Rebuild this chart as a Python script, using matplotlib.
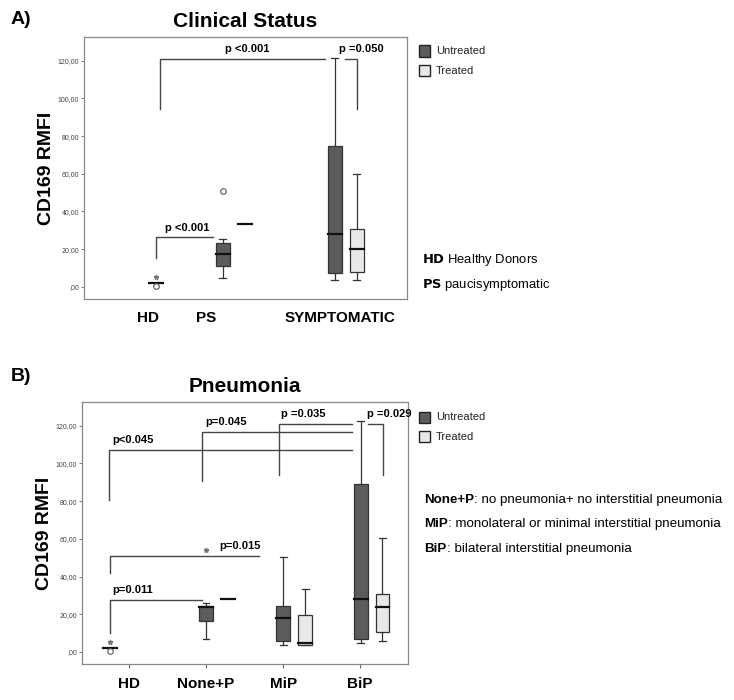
import matplotlib
matplotlib.use("Agg")
import matplotlib.pyplot as plt
from matplotlib.patches import Rectangle

plt.rcParams['font.family'] = ['Liberation Sans', 'DejaVu Sans']

# DADOS - painel A (Clinical Status)
a_categorias = ["HD", "PS", "SYMPTOMATIC"]
a_pos_rotulo = [0.83, 1.585, 3.325]
# caixas: posicao, whisker baixo, q1, mediana, q3, whisker alto
a_tratamento = ["Untreated", "Untreated", "Treated", "Untreated", "Treated"]
a_pos = [0.935, 1.805, 2.09, 3.26, 3.545]
a_wlo = [1.8, 4.6, 33.3, 3.7, 3.7]
a_q1 = [1.8, 11.3, 33.3, 7.2, 7.8]
a_med = [2.3, 17.4, 33.3, 27.8, 20.3]
a_q3 = [2.6, 23.1, 33.3, 74.9, 30.5]
a_whi = [2.6, 25.5, 33.3, 121.2, 60.1]
a_outliers = [(0.935, 0.6, "o"), (0.935, 5.0, "*"), (1.805, 50.6, "o")]
# colchetes: x1, x2, y esquerda, y direita, topo, texto, x texto
a_colchetes = [
    (0.987, 3.13, 94.4, None, 120.9, "p <0.001", 2.117),
    (3.39, 3.545, None, 94.4, 120.9, "p =0.050", 3.60),
    (0.935, 1.675, 15.2, None, 26.3, "p <0.001", 1.34),
]

# DADOS - painel B (Pneumonia)
b_categorias = ["HD", "None+P", "MiP", "BiP"]
b_tratamento = ["Untreated", "Untreated", "Treated", "Untreated", "Treated", "Untreated", "Treated"]
b_pos = [-0.25, 1.0, 1.29, 2.0, 2.29, 3.01, 3.29]
b_wlo = [1.8, 6.7, 28.3, 3.7, 3.5, 4.9, 6.0]
b_q1 = [1.8, 16.6, 28.3, 6.0, 3.7, 6.7, 10.4]
b_med = [2.3, 23.7, 28.3, 18.2, 4.9, 28.3, 23.7]
b_q3 = [2.6, 24.6, 28.3, 24.6, 19.6, 89.2, 30.6]
b_whi = [2.6, 25.8, 28.3, 50.6, 33.5, 122.3, 60.4]
b_outliers = [(-0.25, 0.6, "o"), (-0.25, 5.5, "*"), (1.0, 54.0, "*")]
b_colchetes = [
    (-0.26, 2.9, 80.7, None, 107.3, "p<0.045", 0.05),
    (0.95, 2.9, 90.5, None, 116.7, "p=0.045", 1.26),
    (1.95, 2.9, 94.0, None, 120.9, "p =0.035", 2.26),
    (3.1, 3.3, None, 94.0, 120.9, "p =0.029", 3.38),
    (-0.25, 1.69, 41.8, None, 51.0, "p=0.015", 1.44),
    (-0.25, 0.95, 10.3, None, 27.6, "p=0.011", 0.05),
]

ytick_vals = [0, 20, 40, 60, 80, 100, 120]
ytick_labels = [",00", "20,00", "40,00", "60,00", "80,00", "100,00", "120,00"]

cores = {"Untreated": "#5c5c5c", "Treated": "#e8e8e8"}
LARG = 0.18


def desenhar_caixas(ax, pos, wlo, q1, med, q3, whi, trat):
    for x, lo, a, m, b, hi, t in zip(pos, wlo, q1, med, q3, whi, trat):
        if b - a > 1:
            ax.add_patch(Rectangle((x - LARG / 2, a), LARG, b - a,
                                   facecolor=cores[t], edgecolor="#333333", lw=0.9, zorder=2))
            ax.plot([x, x], [b, hi], color="#333333", lw=0.9, zorder=1)
            ax.plot([x, x], [lo, a], color="#333333", lw=0.9, zorder=1)
            ax.plot([x - LARG / 4, x + LARG / 4], [hi, hi], color="#333333", lw=0.9)
            ax.plot([x - LARG / 4, x + LARG / 4], [lo, lo], color="#333333", lw=0.9)
        ax.plot([x - LARG / 2, x + LARG / 2], [m, m], color="#111111", lw=1.6, zorder=3)


def desenhar_outliers(ax, outliers):
    for x, y, mk in outliers:
        if mk == "o":
            ax.plot(x, y, marker="o", ms=4, mfc="white", mec="#555555", mew=0.8, zorder=4)
        else:
            ax.plot(x, y, marker="*", ms=3.5, color="#777777", zorder=4)


def desenhar_colchetes(ax, colchetes):
    for x1, x2, yl, yr, topo, txt, xt in colchetes:
        xs, ys = [], []
        if yl is not None:
            xs += [x1]
            ys += [yl]
        xs += [x1, x2]
        ys += [topo, topo]
        if yr is not None:
            xs += [x2]
            ys += [yr]
        ax.plot(xs, ys, color="#444444", lw=1.0)
        ax.text(xt, topo + 2.5, txt, ha="center", va="bottom", fontsize=8, fontweight="bold")


def estilo_eixo(ax):
    ax.set_ylim(-6.4, 132.5)
    ax.set_yticks(ytick_vals)
    ax.set_yticklabels(ytick_labels, fontsize=5, color="#444444")
    ax.tick_params(axis="y", length=2.5, width=0.6, color="#666666", pad=1)
    for s in ax.spines.values():
        s.set_color("#888888")
        s.set_linewidth(0.9)
    ax.set_ylabel("CD169 RMFI", fontsize=14, fontweight="bold", labelpad=2)


fig = plt.figure(figsize=(7.34, 7.0), dpi=100)

# PAINEL A
ax1 = fig.add_axes([0.1144, 0.573, 0.44, 0.374])
desenhar_caixas(ax1, a_pos, a_wlo, a_q1, a_med, a_q3, a_whi, a_tratamento)
desenhar_outliers(ax1, a_outliers)
desenhar_colchetes(ax1, a_colchetes)
estilo_eixo(ax1)
ax1.set_xlim(0, 4.195)
ax1.set_xticks(a_pos_rotulo)
ax1.set_xticklabels(a_categorias, fontsize=11, fontweight="bold")
ax1.tick_params(axis="x", length=0, pad=9)
ax1.set_title("Clinical Status", fontsize=15, fontweight="bold", pad=7)
fig.text(0.014, 0.972, "A)", fontsize=14, fontweight="bold", va="center")

# PAINEL B
ax2 = fig.add_axes([0.1117, 0.0514, 0.444, 0.374])
desenhar_caixas(ax2, b_pos, b_wlo, b_q1, b_med, b_q3, b_whi, b_tratamento)
desenhar_outliers(ax2, b_outliers)
desenhar_colchetes(ax2, b_colchetes)
estilo_eixo(ax2)
ax2.set_xlim(-0.61, 3.62)
ax2.set_xticks(range(len(b_categorias)))
ax2.set_xticklabels(b_categorias, fontsize=11, fontweight="bold")
ax2.tick_params(axis="x", length=3, width=0.8, color="#666666", pad=6)
ax2.set_title("Pneumonia", fontsize=15, fontweight="bold", pad=7)
fig.text(0.014, 0.462, "B)", fontsize=14, fontweight="bold", va="center")

# LEGENDAS
for y0 in [0.927, 0.404]:
    for i, t in enumerate(["Untreated", "Treated"]):
        yy = y0 - i * 0.028
        fig.patches.append(Rectangle((0.571, yy - 0.008), 0.015, 0.016, transform=fig.transFigure,
                                     facecolor=cores[t], edgecolor="#222222", lw=1.0))
        fig.text(0.594, yy, t, fontsize=8, va="center", color="#222222")

fig.text(0.575, 0.628, r"$\bf{HD}$ Healthy Donors", fontsize=9.4, va="center")
fig.text(0.575, 0.593, r"$\bf{PS}$ paucisymptomatic", fontsize=9.4, va="center")

notas = [("None+P", ": no pneumonia+ no interstitial pneumonia"),
         ("MiP", ": monolateral or minimal interstitial pneumonia"),
         ("BiP", ": bilateral interstitial pneumonia")]
for i, (n, d) in enumerate(notas):
    yy = 0.286 - i * 0.035
    t = fig.text(0.578, yy, n, fontsize=9.6, fontweight="bold", va="center")
    fig.canvas.draw()
    bb = t.get_window_extent()
    x2 = bb.x1 / fig.bbox.width
    fig.text(x2, yy, d, fontsize=9.6, va="center")

fig.savefig("out.png", dpi=100)
